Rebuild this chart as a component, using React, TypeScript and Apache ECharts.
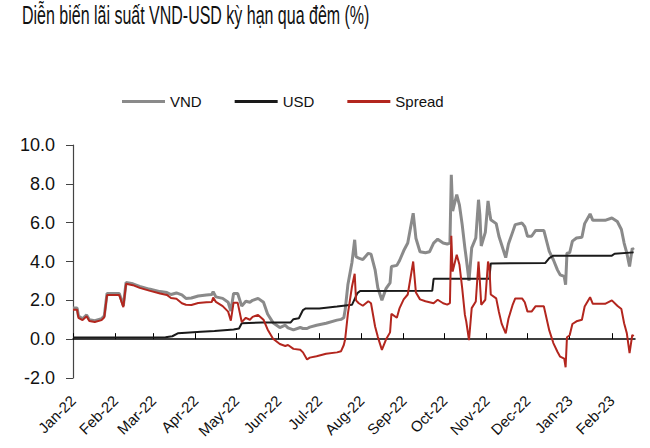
import React, { useEffect, useRef } from 'react';
import * as echarts from 'echarts';

const FONT = "'Liberation Sans', Arial, sans-serif";

const titleText = 'Diễn biến lãi suất VND-USD kỳ hạn qua đêm (%)';
const seriesNames = ['VND', 'USD', 'Spread'];

const tickDates = [
  '2022-01-01', '2022-02-01', '2022-03-01', '2022-04-01', '2022-05-01', '2022-06-01', '2022-07-01',
  '2022-08-01', '2022-09-01', '2022-10-01', '2022-11-01', '2022-12-01', '2023-01-01', '2023-02-01',
];
const tickLabels = [
  'Jan-22', 'Feb-22', 'Mar-22', 'Apr-22', 'May-22', 'Jun-22', 'Jul-22',
  'Aug-22', 'Sep-22', 'Oct-22', 'Nov-22', 'Dec-22', 'Jan-23', 'Feb-23',
];
const axisStart = '2022-01-01';
const axisEnd = '2023-02-18';

// VND and Spread observations (same dates)
const vndDates = [
  '2022-01-01', '2022-01-04', '2022-01-05', '2022-01-08', '2022-01-11', '2022-01-13', '2022-01-17', '2022-01-22',
  '2022-01-24', '2022-01-26', '2022-02-04', '2022-02-07', '2022-02-09', '2022-02-14', '2022-02-19', '2022-02-26',
  '2022-03-06', '2022-03-11', '2022-03-14', '2022-03-18', '2022-03-22', '2022-03-25', '2022-03-29', '2022-04-03',
  '2022-04-09', '2022-04-13', '2022-04-14', '2022-04-16', '2022-04-21', '2022-04-25', '2022-04-27', '2022-04-29',
  '2022-05-02', '2022-05-05', '2022-05-08', '2022-05-11', '2022-05-13', '2022-05-17', '2022-05-21', '2022-05-24',
  '2022-05-28', '2022-06-02', '2022-06-06', '2022-06-08', '2022-06-12', '2022-06-17', '2022-06-19', '2022-06-22',
  '2022-06-24', '2022-06-29', '2022-07-06', '2022-07-14', '2022-07-17', '2022-07-19', '2022-07-20', '2022-07-22',
  '2022-07-25', '2022-07-27', '2022-07-28', '2022-07-30', '2022-08-02', '2022-08-06', '2022-08-08', '2022-08-11',
  '2022-08-13', '2022-08-16', '2022-08-19', '2022-08-22', '2022-08-23', '2022-08-27', '2022-08-29', '2022-09-01',
  '2022-09-04', '2022-09-08', '2022-09-10', '2022-09-13', '2022-09-17', '2022-09-20', '2022-09-23', '2022-09-26',
  '2022-09-30', '2022-10-03', '2022-10-05', '2022-10-06', '2022-10-07', '2022-10-10', '2022-10-12', '2022-10-14',
  '2022-10-16', '2022-10-17', '2022-10-19', '2022-10-21', '2022-10-24', '2022-10-26', '2022-10-27', '2022-10-28',
  '2022-10-31', '2022-11-02', '2022-11-03', '2022-11-04', '2022-11-08', '2022-11-10', '2022-11-12', '2022-11-15',
  '2022-11-17', '2022-11-20', '2022-11-22', '2022-11-27', '2022-11-29', '2022-12-01', '2022-12-04', '2022-12-07',
  '2022-12-13', '2022-12-17', '2022-12-20', '2022-12-23', '2022-12-25', '2022-12-28', '2022-12-29', '2022-12-30',
  '2023-01-01', '2023-01-03', '2023-01-06', '2023-01-10', '2023-01-12', '2023-01-16', '2023-01-18', '2023-01-27',
  '2023-02-01', '2023-02-05', '2023-02-08', '2023-02-10', '2023-02-12', '2023-02-14', '2023-02-16', '2023-02-17',
];
const vndValues = [
  1.60, 1.60, 1.20, 1.05, 1.25, 1.00, 0.95, 1.05,
  1.20, 2.35, 2.35, 1.72, 2.92, 2.85, 2.72, 2.58,
  2.45, 2.40, 2.30, 2.38, 2.28, 2.10, 2.12, 2.22,
  2.28, 2.30, 2.45, 2.18, 2.10, 1.90, 1.45, 2.35,
  2.35, 1.70, 1.95, 1.90, 2.00, 2.10, 1.90, 1.30,
  0.85, 0.60, 0.72, 0.58, 0.48, 0.60, 0.55, 0.55,
  0.62, 0.72, 0.82, 0.98, 1.02, 1.10, 1.50, 2.80,
  3.95, 5.12, 4.25, 4.17, 4.10, 4.42, 4.38, 3.57,
  2.65, 2.00, 2.60, 2.90, 3.74, 3.80, 4.05, 4.55,
  4.95, 6.49, 5.20, 4.50, 4.45, 4.50, 4.95, 5.15,
  4.95, 4.90, 4.95, 8.47, 6.60, 7.44, 6.90, 5.90,
  4.69, 4.17, 3.00, 4.70, 5.21, 7.18, 6.40, 4.80,
  5.50, 7.12, 6.60, 6.15, 5.95, 5.30, 4.86, 4.20,
  4.90, 5.50, 5.90, 5.98, 5.80, 5.30, 5.30, 5.60,
  5.60, 4.52, 4.09, 3.57, 3.31, 3.23, 2.80, 4.43,
  4.45, 5.05, 5.21, 5.25, 5.95, 6.45, 6.12, 6.12,
  6.24, 6.06, 5.65, 4.95, 4.43, 3.74, 4.69, 4.60,
];
const spreadValues = [
  1.52, 1.52, 1.10, 0.98, 1.18, 0.93, 0.88, 0.98,
  1.13, 2.27, 2.27, 1.65, 2.85, 2.78, 2.64, 2.50,
  2.35, 2.28, 2.12, 2.08, 1.85, 1.77, 1.76, 1.86,
  1.90, 1.92, 2.14, 1.92, 1.70, 1.42, 0.95, 1.88,
  1.88, 0.88, 1.10, 1.00, 1.15, 1.25, 1.00, 0.50,
  0.02, -0.25, -0.35, -0.30, -0.50, -0.55, -0.68, -1.05,
  -0.95, -0.88, -0.75, -0.68, -0.62, -0.30, 0.00, 1.30,
  2.70, 3.37, 2.00, 1.85, 1.72, 1.95, 1.85, 0.65,
  0.12, -0.55, -0.02, 0.35, 1.30, 1.10, 1.60, 2.05,
  2.30, 4.00, 2.40, 2.05, 1.95, 1.90, 1.85, 2.03,
  1.85, 1.78, 1.86, 5.32, 3.48, 4.35, 3.83, 2.63,
  1.25, 0.91, -0.05, 1.60, 1.94, 4.00, 2.97, 1.77,
  2.03, 4.00, 3.70, 2.30, 2.10, 1.40, 0.80, 0.30,
  1.05, 1.75, 2.10, 2.10, 1.90, 1.42, 1.42, 1.70,
  1.70, 0.45, -0.20, -0.65, -0.90, -1.00, -1.45, 0.10,
  0.20, 0.78, 0.92, 1.00, 1.68, 2.16, 1.82, 1.82,
  2.00, 1.72, 1.55, 0.82, 0.30, -0.72, 0.22, 0.15,
];

// USD observations
const usdDates = [
  '2022-01-01', '2022-03-10', '2022-03-15', '2022-03-19', '2022-03-25', '2022-04-05', '2022-04-15', '2022-04-29',
  '2022-05-03', '2022-05-05', '2022-05-20', '2022-06-10', '2022-06-12', '2022-06-16', '2022-06-19', '2022-06-21',
  '2022-07-01', '2022-07-06', '2022-07-14', '2022-07-25', '2022-07-29', '2022-07-31', '2022-09-22', '2022-09-23',
  '2022-11-03', '2022-11-04', '2022-12-14', '2022-12-17', '2022-12-20', '2023-02-01', '2023-02-03', '2023-02-17',
];
const usdValues = [
  0.08, 0.10, 0.15, 0.30, 0.33, 0.38, 0.42, 0.50,
  0.55, 0.82, 0.86, 0.86, 1.03, 1.08, 1.50, 1.58,
  1.58, 1.62, 1.68, 1.77, 2.37, 2.48, 2.49, 3.11,
  3.11, 3.90, 3.92, 4.17, 4.30, 4.30, 4.40, 4.47,
];

const COLORS = { VND: '#8a8a8a', USD: '#1a1a1a', Spread: '#b3261e' };

function toTs(s: string): number {
  const [y, m, d] = s.split('-').map(Number);
  return Date.UTC(y, m - 1, d);
}

function zip(dates: string[], values: number[]) {
  return dates.map((d, i) => [toTs(d), values[i]]);
}

export default function App() {
  const ref = useRef<HTMLDivElement>(null);
  useEffect(() => {
    document.body.style.margin = '0';
    if (!ref.current) return;
    const chart = echarts.init(ref.current, null, { renderer: 'svg' });
    const tickTs = tickDates.map(toTs);
    const fmt = (v: number) => {
      const i = tickTs.indexOf(v);
      return i >= 0 ? tickLabels[i] : '';
    };
    chart.setOption({
      animation: false,
      backgroundColor: '#ffffff',
      graphic: [
        {
          type: 'text',
          x: 22,
          y: 3,
          scaleX: 0.64,
          style: {
            text: titleText,
            fontFamily: FONT,
            fontSize: 25,
            fill: '#111111',
            textVerticalAlign: 'top',
          },
        },
      ],
      legend: {
        data: seriesNames.map((n) => ({ name: n, itemStyle: { color: (COLORS as any)[n] } })),
        icon: 'rect',
        left: 117,
        top: 89,
        itemWidth: 43,
        itemHeight: 3,
        itemGap: 33,
        textStyle: { fontFamily: FONT, fontSize: 15, color: '#111111' },
      },
      grid: { left: 73, right: 15, top: 145, bottom: 70, containLabel: false },
      xAxis: [
        {
          type: 'value',
          min: toTs(axisStart),
          max: toTs(axisEnd),
          position: 'bottom',
          axisLine: { show: false, onZero: false },
          axisTick: { show: false },
          splitLine: { show: false },
          axisLabel: {
            customValues: tickTs,
            formatter: fmt,
            rotate: 45,
            margin: 20,
            fontFamily: FONT,
            fontSize: 15,
            color: '#111111',
          },
        },
        {
          type: 'value',
          min: toTs(axisStart),
          max: toTs(axisEnd),
          position: 'bottom',
          axisLine: { show: true, onZero: true, lineStyle: { color: '#000000', width: 1.5 } },
          axisTick: { show: true, inside: true, length: 6, customValues: tickTs, lineStyle: { color: '#000000', width: 1 } },
          axisLabel: { show: false },
          splitLine: { show: false },
        },
      ],
      yAxis: {
        type: 'value',
        min: -2,
        max: 10,
        interval: 2,
        axisLine: { show: true, lineStyle: { color: '#444444', width: 1.2 } },
        axisTick: { show: true, length: 7, lineStyle: { color: '#444444' } },
        splitLine: { show: false },
        axisLabel: {
          formatter: (v: number) => v.toFixed(1),
          margin: 18,
          fontFamily: FONT,
          fontSize: 18,
          color: '#111111',
        },
      },
      series: [
        {
          name: 'VND',
          type: 'line',
          xAxisIndex: 0,
          symbol: 'none',
          showSymbol: false,
          data: zip(vndDates, vndValues),
          lineStyle: { color: COLORS.VND, width: 3 },
          itemStyle: { color: COLORS.VND },
        },
        {
          name: 'USD',
          type: 'line',
          xAxisIndex: 0,
          symbol: 'none',
          showSymbol: false,
          data: zip(usdDates, usdValues),
          lineStyle: { color: COLORS.USD, width: 2 },
          itemStyle: { color: COLORS.USD },
        },
        {
          name: 'Spread',
          type: 'line',
          xAxisIndex: 0,
          symbol: 'none',
          showSymbol: false,
          data: zip(vndDates, spreadValues),
          lineStyle: { color: COLORS.Spread, width: 2 },
          itemStyle: { color: COLORS.Spread },
        },
      ],
    });
    return () => chart.dispose();
  }, []);
  return <div ref={ref} style={{ width: 650, height: 448 }} />;
}
